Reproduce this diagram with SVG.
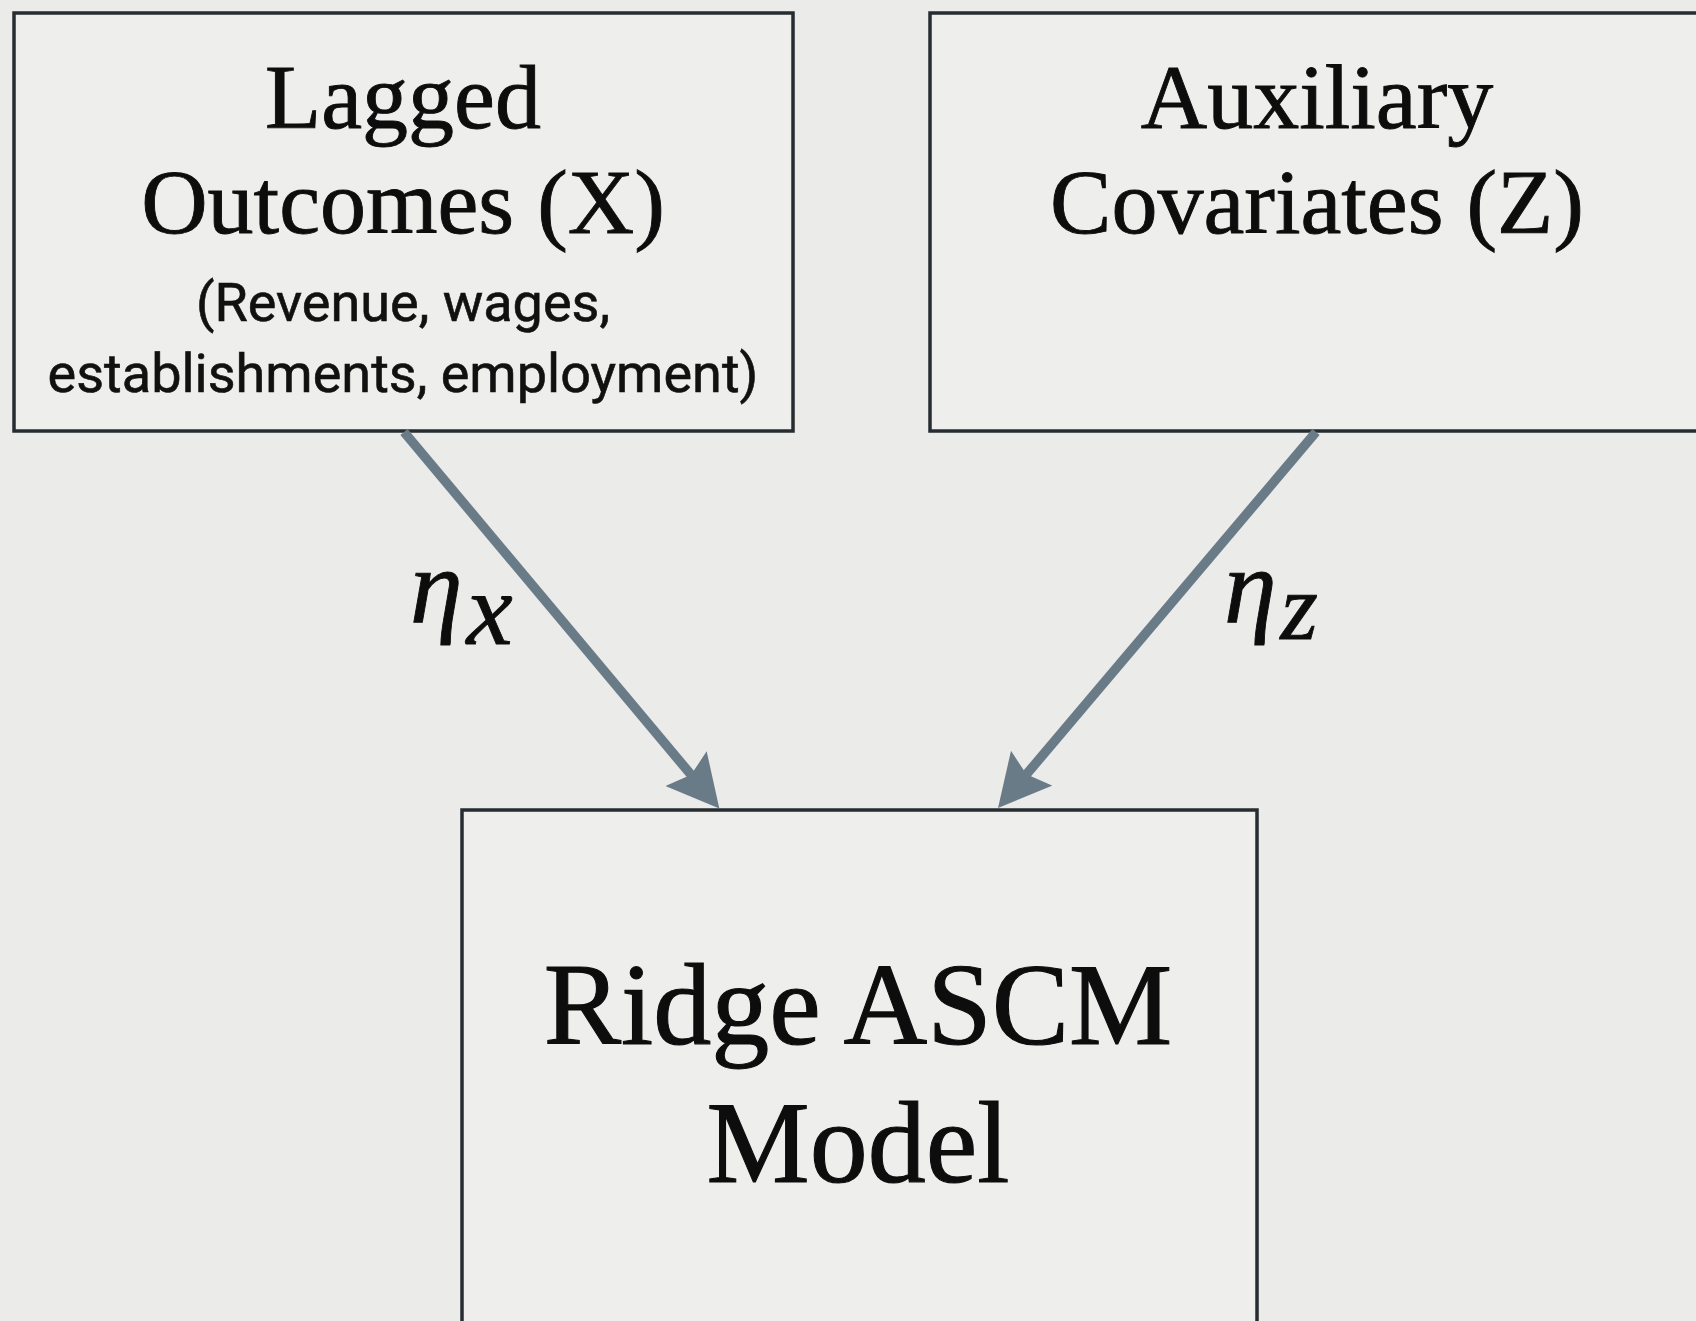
<svg xmlns="http://www.w3.org/2000/svg" width="1696" height="1321" viewBox="0 0 1696 1321">
  <style>
    .box { fill: #eeeeec; stroke: #262c31; stroke-width: 3.5; }
    .title { font-family: "Liberation Serif", "Times New Roman", serif; font-size: 92px; fill: #0d0d0d; stroke: #0d0d0d; stroke-width: 0.9; text-anchor: middle; }
    .big { font-family: "Liberation Serif", "Times New Roman", serif; font-size: 116px; fill: #0d0d0d; stroke: #0d0d0d; stroke-width: 1.1; text-anchor: middle; }
    .note { font-family: Roboto, "Liberation Sans", sans-serif; font-size: 54px; fill: #111111; stroke: #111111; stroke-width: 0.6; text-anchor: middle; }
    .edge { stroke: #6a7b88; stroke-width: 9.5; fill: none; marker-end: url(#head); }
    .eta { font-family: "Liberation Serif", "DejaVu Serif", serif; font-style: italic; font-size: 106px; fill: #0d0d0d; stroke: #0d0d0d; stroke-width: 0.9; }
  </style>
  <defs>
    <marker id="head" viewBox="0 0 52 54" refX="20" refY="27" markerWidth="52" markerHeight="54" markerUnits="userSpaceOnUse" orient="auto">
      <path d="M0,0 L52,27 L0,54 L8,27 Z" fill="#6a7b88"/>
    </marker>
  </defs>

  <rect x="0" y="0" width="1696" height="1321" fill="#ebebe9"/>

  <g id="lagged-outcomes">
    <rect class="box" x="14" y="13" width="779" height="418"/>
    <text class="title" x="403" y="128">Lagged</text>
    <text class="title" x="403" y="233">Outcomes (X)</text>
    <text class="note" x="403" y="321">(Revenue, wages,</text>
    <text class="note" x="403" y="392">establishments, employment)</text>
  </g>

  <g id="auxiliary-covariates">
    <rect class="box" x="930" y="13" width="790" height="418"/>
    <text class="title" x="1317" y="128">Auxiliary</text>
    <text class="title" x="1317" y="233">Covariates (Z)</text>
  </g>

  <g id="ridge-ascm">
    <rect class="box" x="462" y="810" width="795" height="540"/>
    <text class="big" x="858" y="1044">Ridge ASCM</text>
    <text class="big" x="858" y="1182">Model</text>
  </g>

  <g id="connectors">
    <line class="edge" x1="404" y1="432" x2="698.8" y2="784"/>
    <line class="edge" x1="1316" y1="432" x2="1018.7" y2="783.5"/>
    <text class="eta" x="410" y="622">η<tspan font-size="104" dx="4" dy="22">x</tspan></text>
    <text class="eta" x="1224" y="622">η<tspan font-size="96" dx="4" dy="17">z</tspan></text>
  </g>
</svg>
